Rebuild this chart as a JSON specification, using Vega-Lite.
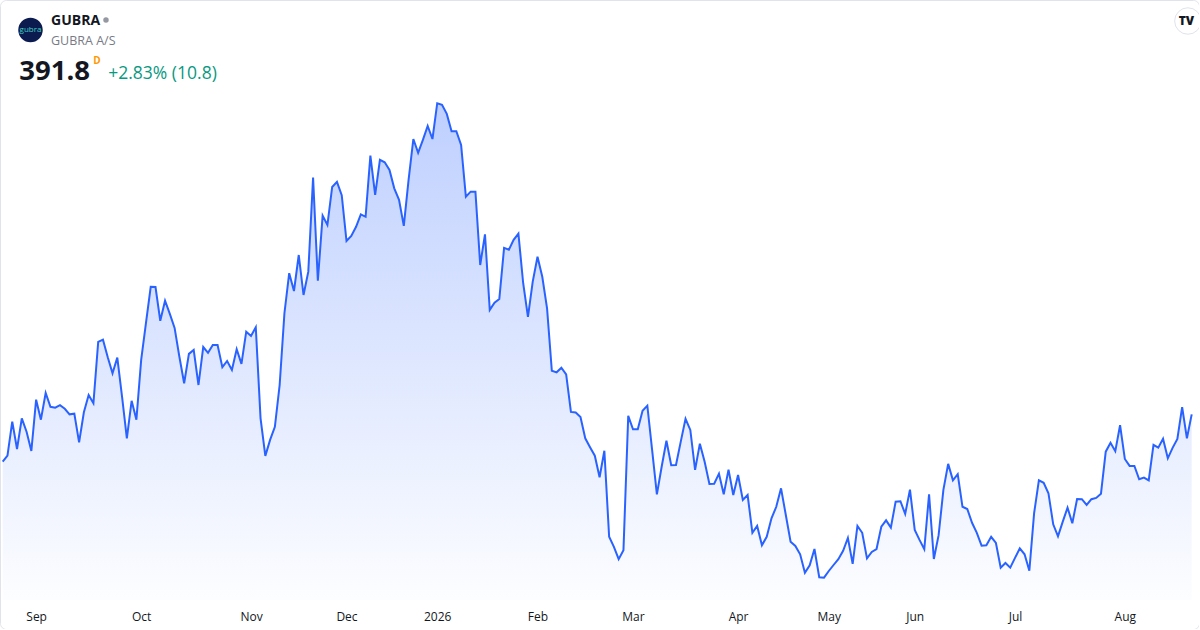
{
  "$schema": "https://vega.github.io/schema/vega-lite/v6.json",
  "autosize": {"type": "none"},
  "padding": 0,
  "width": 1199,
  "height": 629,
  "background": "white",
  "config": {
    "font": "Open Sans",
    "view": {"stroke": "#e0e3eb", "cornerRadius": 6},
    "axisX": {
      "offset": -18, "labelPadding": 0, "ticks": false, "tickSize": 0,
      "domain": false, "grid": false, "labelFlush": false,
      "labelFont": "Open Sans", "labelFontSize": 12, "labelColor": "#131722"
    }
  },
  "datasets": {
    "gubra": [
      {"i":0,"close":370.5},{"i":1,"close":373.2},{"i":2,"close":388.5},{"i":3,"close":376.2},{"i":4,"close":390.0},
      {"i":5,"close":384.0},{"i":6,"close":375.3},{"i":7,"close":398.4},{"i":8,"close":389.4},{"i":9,"close":401.4},
      {"i":10,"close":395.2},{"i":11,"close":394.8},{"i":12,"close":395.9},{"i":13,"close":394.3},{"i":14,"close":391.8},
      {"i":15,"close":392.1},{"i":16,"close":379.2},{"i":17,"close":392.7},{"i":18,"close":400.5},{"i":19,"close":396.8},
      {"i":20,"close":424.4},{"i":21,"close":425.4},{"i":22,"close":417.5},{"i":23,"close":410.3},{"i":24,"close":417.3},
      {"i":25,"close":399.7},{"i":26,"close":381.0},{"i":27,"close":397.9},{"i":28,"close":389.4},{"i":29,"close":416.3},
      {"i":30,"close":432.8},{"i":31,"close":449.2},{"i":32,"close":449.1},{"i":33,"close":433.9},{"i":34,"close":442.9},
      {"i":35,"close":437.0},{"i":36,"close":430.7},{"i":37,"close":417.7},{"i":38,"close":405.8},{"i":39,"close":419.0},
      {"i":40,"close":420.8},{"i":41,"close":405.0},{"i":42,"close":422.1},{"i":43,"close":419.5},{"i":44,"close":423.0},
      {"i":45,"close":423.0},{"i":46,"close":413.0},{"i":47,"close":415.8},{"i":48,"close":411.8},{"i":49,"close":421.1},
      {"i":50,"close":414.5},{"i":51,"close":429.0},{"i":52,"close":427.1},{"i":53,"close":431.0},{"i":54,"close":390.0},
      {"i":55,"close":373.1},{"i":56,"close":380.3},{"i":57,"close":386.2},{"i":58,"close":405.0},{"i":59,"close":437.3},
      {"i":60,"close":455.3},{"i":61,"close":447.3},{"i":62,"close":463.5},{"i":63,"close":445.5},{"i":64,"close":456.0},
      {"i":65,"close":498.3},{"i":66,"close":451.9},{"i":67,"close":481.2},{"i":68,"close":477.0},{"i":69,"close":494.1},
      {"i":70,"close":496.4},{"i":71,"close":490.4},{"i":72,"close":469.8},{"i":73,"close":472.1},{"i":74,"close":476.2},
      {"i":75,"close":481.8},{"i":76,"close":480.7},{"i":77,"close":508.2},{"i":78,"close":490.6},{"i":79,"close":506.3},
      {"i":80,"close":505.2},{"i":81,"close":501.8},{"i":82,"close":493.5},{"i":83,"close":488.3},{"i":84,"close":476.6},
      {"i":85,"close":497.3},{"i":86,"close":515.7},{"i":87,"close":509.5},{"i":88,"close":515.3},{"i":89,"close":521.6},
      {"i":90,"close":515.7},{"i":91,"close":531.8},{"i":92,"close":531.1},{"i":93,"close":527.0},{"i":94,"close":519.2},
      {"i":95,"close":519.2},{"i":96,"close":513.0},{"i":97,"close":489.7},{"i":98,"close":492.0},{"i":99,"close":492.0},
      {"i":100,"close":459.0},{"i":101,"close":472.8},{"i":102,"close":438.8},{"i":103,"close":442.0},{"i":104,"close":443.7},
      {"i":105,"close":466.7},{"i":106,"close":465.9},{"i":107,"close":470.3},{"i":108,"close":473.1},{"i":109,"close":450.8},
      {"i":110,"close":435.7},{"i":111,"close":451.5},{"i":112,"close":462.7},{"i":113,"close":453.7},{"i":114,"close":439.5},
      {"i":115,"close":411.4},{"i":116,"close":410.7},{"i":117,"close":412.8},{"i":118,"close":409.8},{"i":119,"close":392.9},
      {"i":120,"close":392.6},{"i":121,"close":390.6},{"i":122,"close":381.0},{"i":123,"close":377.0},{"i":124,"close":373.2},
      {"i":125,"close":363.5},{"i":126,"close":375.4},{"i":127,"close":336.7},{"i":128,"close":332.2},{"i":129,"close":326.6},
      {"i":130,"close":330.6},{"i":131,"close":391.1},{"i":132,"close":385.1},{"i":133,"close":385.1},{"i":134,"close":393.4},
      {"i":135,"close":395.7},{"i":136,"close":375.8},{"i":137,"close":355.8},{"i":138,"close":368.2},{"i":139,"close":379.9},
      {"i":140,"close":368.9},{"i":141,"close":369.0},{"i":142,"close":379.5},{"i":143,"close":389.8},{"i":144,"close":384.8},
      {"i":145,"close":366.8},{"i":146,"close":378.6},{"i":147,"close":370.5},{"i":148,"close":360.5},{"i":149,"close":360.6},
      {"i":150,"close":365.1},{"i":151,"close":355.8},{"i":152,"close":366.9},{"i":153,"close":355.5},{"i":154,"close":364.5},
      {"i":155,"close":353.3},{"i":156,"close":355.5},{"i":157,"close":338.5},{"i":158,"close":341.6},{"i":159,"close":332.9},
      {"i":160,"close":336.7},{"i":161,"close":345.0},{"i":162,"close":350.2},{"i":163,"close":358.5},{"i":164,"close":346.5},
      {"i":165,"close":334.5},{"i":166,"close":332.6},{"i":167,"close":328.8},{"i":168,"close":320.5},{"i":169,"close":323.9},
      {"i":170,"close":331.2},{"i":171,"close":318.5},{"i":172,"close":318.3},{"i":173,"close":321.3},{"i":174,"close":324.0},
      {"i":175,"close":326.6},{"i":176,"close":330.4},{"i":177,"close":336.2},{"i":178,"close":324.5},{"i":179,"close":341.6},
      {"i":180,"close":338.5},{"i":181,"close":327.0},{"i":182,"close":329.9},{"i":183,"close":331.2},{"i":184,"close":341.2},
      {"i":185,"close":344.1},{"i":186,"close":340.8},{"i":187,"close":352.5},{"i":188,"close":352.7},{"i":189,"close":347.0},
      {"i":190,"close":357.9},{"i":191,"close":339.8},{"i":192,"close":335.3},{"i":193,"close":331.1},{"i":194,"close":355.8},
      {"i":195,"close":326.7},{"i":196,"close":337.4},{"i":197,"close":357.8},{"i":198,"close":369.5},{"i":199,"close":362.1},
      {"i":200,"close":364.9},{"i":201,"close":350.2},{"i":202,"close":349.2},{"i":203,"close":343.0},{"i":204,"close":338.5},
      {"i":205,"close":332.7},{"i":206,"close":332.9},{"i":207,"close":336.7},{"i":208,"close":333.9},{"i":209,"close":322.8},
      {"i":210,"close":324.9},{"i":211,"close":322.8},{"i":212,"close":327.2},{"i":213,"close":331.5},{"i":214,"close":328.8},
      {"i":215,"close":321.4},{"i":216,"close":347.3},{"i":217,"close":362.1},{"i":218,"close":361.0},{"i":219,"close":356.3},
      {"i":220,"close":342.3},{"i":221,"close":336.9},{"i":222,"close":343.5},{"i":223,"close":349.8},{"i":224,"close":342.8},
      {"i":225,"close":353.7},{"i":226,"close":353.6},{"i":227,"close":351.0},{"i":228,"close":353.6},{"i":229,"close":354.2},
      {"i":230,"close":356.1},{"i":231,"close":375.0},{"i":232,"close":379.0},{"i":233,"close":375.2},{"i":234,"close":386.9},
      {"i":235,"close":371.7},{"i":236,"close":368.6},{"i":237,"close":368.6},{"i":238,"close":362.6},{"i":239,"close":363.3},
      {"i":240,"close":362.1},{"i":241,"close":378.1},{"i":242,"close":376.8},{"i":243,"close":380.8},{"i":244,"close":372.0},
      {"i":245,"close":376.7},{"i":246,"close":380.7},{"i":247,"close":395.0},{"i":248,"close":381.0},{"i":249,"close":391.8}
    ]
  },
  "layer": [
    {
      "data": {"name": "gubra"},
      "mark": {
        "type": "area",
        "color": {
          "gradient": "linear", "x1": 0, "y1": 0, "x2": 0, "y2": 1,
          "stops": [
            {"offset": 0, "color": "rgba(41,98,255,0.30)"},
            {"offset": 1, "color": "rgba(41,98,255,0.01)"}
          ]
        }
      },
      "encoding": {
        "x": {
          "field": "i", "type": "quantitative", "title": null,
          "scale": {"domain": [-0.565, 250.53], "nice": false, "zero": false},
          "axis": {
            "title": null,
            "values": [7, 29, 52, 72, 91, 112, 132, 154, 173, 191, 212, 235],
            "labelExpr": "['Sep','Oct','Nov','Dec','2026','Feb','Mar','Apr','May','Jun','Jul','Aug'][indexof([7,29,52,72,91,112,132,154,173,191,212,235], datum.value)]",
            "labelFontWeight": {"condition": {"test": "datum.label == '2026'", "value": "bold"}, "value": "normal"}
          }
        },
        "y": {
          "field": "close", "type": "quantitative", "axis": null,
          "scale": {"domain": [295.2, 578.25], "nice": false, "zero": false}
        },
        "y2": {"datum": 308.25}
      }
    },
    {
      "data": {"name": "gubra"},
      "mark": {"type": "line", "color": "#2962FF", "strokeWidth": 2},
      "encoding": {
        "x": {"field": "i", "type": "quantitative"},
        "y": {"field": "close", "type": "quantitative", "axis": null}
      }
    },
    {
      "data": {"values": [{"label": "logo"}]},
      "mark": {"type": "point", "shape": "circle", "filled": true, "size": 600, "color": "#0c1b4f", "opacity": 1},
      "encoding": {
        "x": {"datum": 5.82, "type": "quantitative"},
        "y": {"datum": 564.75, "type": "quantitative", "axis": null}
      }
    },
    {
      "data": {"values": [{"label": "gubra"}]},
      "mark": {"type": "text", "font": "Open Sans", "fontSize": 8, "color": "#3ed1c6", "align": "center", "baseline": "middle"},
      "encoding": {
        "x": {"datum": 5.82, "type": "quantitative"},
        "y": {"datum": 564.75, "type": "quantitative", "axis": null},
        "text": {"field": "label"}
      }
    },
    {
      "data": {"values": [{"label": "GUBRA"}]},
      "mark": {"type": "text", "font": "Open Sans", "fontSize": 14, "fontWeight": "bold", "color": "#131722", "align": "left", "baseline": "middle"},
      "encoding": {
        "x": {"datum": 10.12, "type": "quantitative"},
        "y": {"datum": 568.8, "type": "quantitative", "axis": null},
        "text": {"field": "label"}
      }
    },
    {
      "data": {"values": [{"label": "status"}]},
      "mark": {"type": "point", "shape": "circle", "filled": true, "size": 30, "color": "#9598a1", "opacity": 1},
      "encoding": {
        "x": {"datum": 21.63, "type": "quantitative"},
        "y": {"datum": 569.25, "type": "quantitative", "axis": null}
      }
    },
    {
      "data": {"values": [{"label": "GUBRA A/S"}]},
      "mark": {"type": "text", "font": "Open Sans", "fontSize": 12.5, "color": "#787b86", "align": "left", "baseline": "middle"},
      "encoding": {
        "x": {"datum": 10.12, "type": "quantitative"},
        "y": {"datum": 560.0, "type": "quantitative", "axis": null},
        "text": {"field": "label"}
      }
    },
    {
      "data": {"values": [{"label": "391.8"}]},
      "mark": {"type": "text", "font": "Open Sans", "fontSize": 27.5, "fontWeight": "bold", "color": "#131722", "align": "left", "baseline": "middle"},
      "encoding": {
        "x": {"datum": 3.48, "type": "quantitative"},
        "y": {"datum": 546.0, "type": "quantitative", "axis": null},
        "text": {"field": "label"}
      }
    },
    {
      "data": {"values": [{"label": "D"}]},
      "mark": {"type": "text", "font": "Open Sans", "fontSize": 10, "fontWeight": "bold", "color": "#ff9800", "align": "left", "baseline": "middle"},
      "encoding": {
        "x": {"datum": 18.97, "type": "quantitative"},
        "y": {"datum": 550.7, "type": "quantitative", "axis": null},
        "text": {"field": "label"}
      }
    },
    {
      "data": {"values": [{"label": "+2.83% (10.8)"}]},
      "mark": {"type": "text", "font": "Open Sans", "fontSize": 17.5, "color": "#089981", "align": "left", "baseline": "middle"},
      "encoding": {
        "x": {"datum": 22.1, "type": "quantitative"},
        "y": {"datum": 544.8, "type": "quantitative", "axis": null},
        "text": {"field": "label"}
      }
    },
    {
      "data": {"values": [{"label": "tv"}]},
      "mark": {"type": "point", "shape": "circle", "filled": true, "size": 700, "color": "white", "stroke": "#e0e3eb", "strokeWidth": 1, "opacity": 1},
      "encoding": {
        "x": {"datum": 248.2, "type": "quantitative"},
        "y": {"datum": 568.8, "type": "quantitative", "axis": null}
      }
    },
    {
      "data": {"values": [{"label": "TV"}]},
      "mark": {"type": "text", "font": "Open Sans", "fontSize": 12, "fontWeight": 900, "color": "#131722", "align": "center", "baseline": "middle"},
      "encoding": {
        "x": {"datum": 247.9, "type": "quantitative"},
        "y": {"datum": 568.8, "type": "quantitative", "axis": null},
        "text": {"field": "label"}
      }
    }
  ]
}
